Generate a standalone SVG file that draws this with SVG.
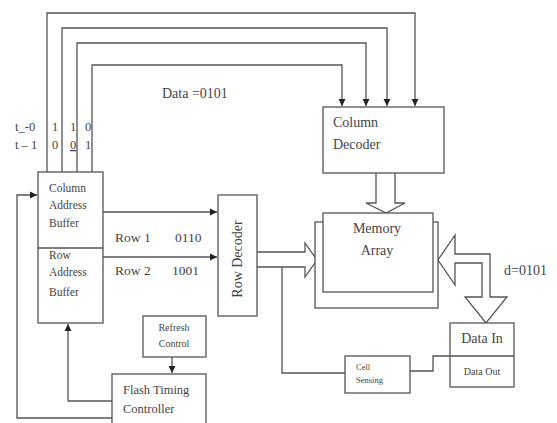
<svg xmlns="http://www.w3.org/2000/svg" width="557" height="423" viewBox="0 0 557 423">
<style>
.box{fill:#fff;stroke:#555;stroke-width:1.3}
.ln{fill:none;stroke:#555;stroke-width:1.3}
.fat{fill:#fff;stroke:#555;stroke-width:1.3;stroke-linejoin:miter}
text{font-family:"Liberation Serif","Times New Roman",serif;fill:#444;font-size:14px}
.rw{font-size:13.5px}
.md{font-size:12.5px}
.sm{font-size:11.5px}
.xs{font-size:10px}
.xxs{font-size:8.5px}
</style>
<defs>
<marker id="ah" markerWidth="8" markerHeight="8" refX="7" refY="4" orient="auto" markerUnits="userSpaceOnUse">
<path d="M0,0.5 L7,4 L0,7.5 Z" fill="#222"/>
</marker>
</defs>
<rect width="557" height="423" fill="#fff"/>
<g id="connectors">
<path class="ln" d="M47,172 V13 H415 V106" marker-end="url(#ah)"/>
<path class="ln" d="M62,172 V28 H387 V106" marker-end="url(#ah)"/>
<path class="ln" d="M77,172 V43 H366 V106" marker-end="url(#ah)"/>
<path class="ln" d="M92,172 V65 H342 V106" marker-end="url(#ah)"/>
<path class="ln" d="M103,212 H217" marker-end="url(#ah)"/>
<path class="ln" d="M103,257 H217" marker-end="url(#ah)"/>
<path class="ln" d="M172,357 V373" marker-end="url(#ah)"/>
<path class="ln" d="M112,401 H68 V324" marker-end="url(#ah)"/>
<path class="ln" d="M112,418 H17 V195 H37" marker-end="url(#ah)"/>
<path class="ln" d="M345,373 H282 V267"/>
<path class="ln" d="M410,371 H433 V356 H450"/>
<path class="fat" d="M376,173 V203 H366 L386,213 L405,203 H395 V173"/>
<path class="fat" d="M257,252 H305 V243 L317,260 L305,277 V267 H257"/>
<path class="fat" d="M438,260 L455,235 V254 H490 V297 H507 L486,323 L465,297 H482 V263 H455 V285 Z"/>
</g>
<g id="column-address-buffer">
<rect class="box" x="38" y="172" width="65" height="151"/>
<line class="ln" x1="38" y1="248" x2="103" y2="248"/>
<text x="49" y="192" class="sm">Column</text>
<text x="49" y="209" class="sm">Address</text>
<text x="49" y="227" class="sm">Buffer</text>
<text x="49" y="259" class="sm">Row</text>
<text x="49" y="276" class="sm">Address</text>
<text x="49" y="296" class="sm">Buffer</text>
</g>
<g id="labels">
<text x="15" y="131" class="md">t_-0</text>
<text x="52" y="131" class="md">1</text>
<text x="70" y="131" class="md">1</text>
<text x="85" y="131" class="md">0</text>
<text x="15" y="149" class="md">t – 1</text>
<text x="52" y="149" class="md">0</text>
<text x="70" y="149" class="md" text-decoration="underline">0</text>
<text x="85" y="149" class="md">1</text>
<text x="162" y="98">Data =0101</text>
<text x="115" y="242" class="rw">Row 1</text>
<text x="175" y="242" class="rw">0110</text>
<text x="115" y="275" class="rw">Row 2</text>
<text x="172" y="275" class="rw">1001</text>
<text x="504" y="275">d=0101</text>
</g>
<g id="column-decoder">
<rect class="box" x="323" y="107" width="121" height="66"/>
<text x="333" y="127">Column</text>
<text x="333" y="149">Decoder</text>
</g>
<g id="row-decoder">
<rect class="box" x="218" y="195" width="39" height="121"/>
<text x="242" y="259" text-anchor="middle" transform="rotate(-90 242 259)">Row Decoder</text>
</g>
<g id="memory-array">
<rect class="box" x="315" y="222" width="123" height="86"/>
<rect class="box" x="323" y="213" width="110" height="79"/>
<text x="377" y="233" text-anchor="middle">Memory</text>
<text x="377" y="255" text-anchor="middle">Array</text>
</g>
<g id="data-in-out">
<rect class="box" x="450" y="323" width="64" height="64"/>
<line class="ln" x1="450" y1="356" x2="514" y2="356"/>
<text x="482" y="343" text-anchor="middle">Data In</text>
<text x="482" y="375" text-anchor="middle" class="xs">Data Out</text>
</g>
<g id="cell-sensing">
<rect class="box" x="345" y="356" width="65" height="37"/>
<text x="356" y="370" class="xxs">Cell</text>
<text x="356" y="383" class="xxs">Sensing</text>
</g>
<g id="refresh-control">
<rect class="box" x="143" y="316" width="63" height="41"/>
<text x="174" y="331" text-anchor="middle" class="xs">Refresh</text>
<text x="174" y="347" text-anchor="middle" class="xs">Control</text>
</g>
<g id="flash-timing-controller">
<rect class="box" x="112" y="374" width="94" height="60"/>
<text x="123" y="394" class="md">Flash Timing</text>
<text x="123" y="413" class="md">Controller</text>
</g>
</svg>
